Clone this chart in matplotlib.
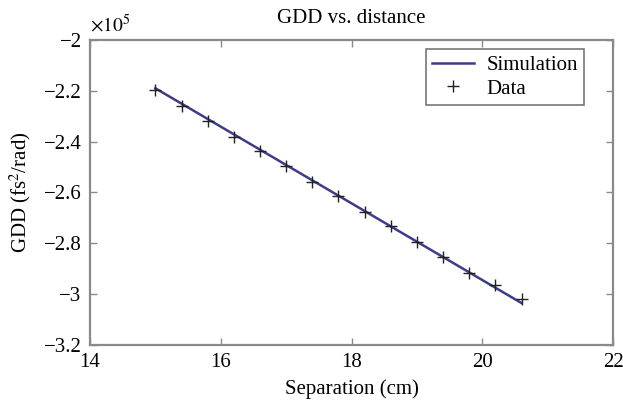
"""GDD vs. grating separation: simulated line against measured points."""

import matplotlib

matplotlib.use("Agg")
import matplotlib.pyplot as plt
from matplotlib.ticker import FuncFormatter

plt.rcParams["font.family"] = ["Liberation Serif", "DejaVu Serif"]
plt.rcParams["mathtext.fontset"] = "stix"

# measured points (cm, fs^2/rad)
data_sep = [15.0, 15.4, 15.8, 16.2, 16.6, 17.0, 17.4, 17.8,
            18.2, 18.6, 19.0, 19.4, 19.8, 20.2, 20.6]
data_gdd = [-2.195e5, -2.26e5, -2.32e5, -2.38e5, -2.437e5, -2.495e5, -2.557e5,
            -2.614e5, -2.677e5, -2.73e5, -2.795e5, -2.854e5, -2.917e5,
            -2.964e5, -3.02e5]

# simulation line endpoints
sim_sep = [15.0, 20.6]
sim_gdd = [-2.19e5, -3.035e5]

x_ticks = [14, 16, 18, 20, 22]
y_ticks = [-3.2e5, -3.0e5, -2.8e5, -2.6e5, -2.4e5, -2.2e5, -2.0e5]
SCALE = 1e5

GREY = "#8a8a8a"
FS = 15

fig = plt.figure(figsize=(6.23, 4.03), dpi=100)
ax = fig.add_axes([0.1445, 0.144, 0.8395, 0.7567])

ax.plot(sim_sep, sim_gdd, color="#3c3c8c", lw=1.8, label="Simulation")
ax.plot(data_sep, data_gdd, ls="none", marker="+", ms=9, mew=1.0,
        color="#222222", label="Data")

ax.set_xlim(14, 22)
ax.set_ylim(-3.2e5, -2.0e5)
ax.set_xticks(x_ticks)
ax.set_yticks(y_ticks)
ax.yaxis.set_major_formatter(
    FuncFormatter(lambda v, _: f"{v / SCALE:g}".replace("-", "\u2212")))
ax.text(0.0, 1.012, r"$\times10^5$", transform=ax.transAxes,
        fontsize=FS - 1, ha="left", va="bottom")

ax.tick_params(direction="in", length=5, width=1.0, color=GREY,
               top=True, right=True, labelsize=FS)
ax.tick_params(axis="x", pad=6)
ax.tick_params(axis="y", pad=6)
for spine in ax.spines.values():
    spine.set_color(GREY)
    spine.set_linewidth(1.6)

ax.set_title("GDD vs. distance", fontsize=FS, pad=12)
ax.set_xlabel("Separation (cm)", fontsize=FS, labelpad=5)
ax.set_ylabel("GDD (fs$^2$/rad)", fontsize=FS, labelpad=8)

leg = ax.legend(loc="upper right", fontsize=FS, fancybox=False,
                bbox_to_anchor=(0.945, 0.97), borderaxespad=0.0,
                handlelength=2.0, borderpad=0.3, labelspacing=0.2,
                handletextpad=0.6)
leg.get_frame().set_edgecolor("#555555")
leg.get_frame().set_linewidth(1.2)

fig.savefig("out.png", dpi=100)
